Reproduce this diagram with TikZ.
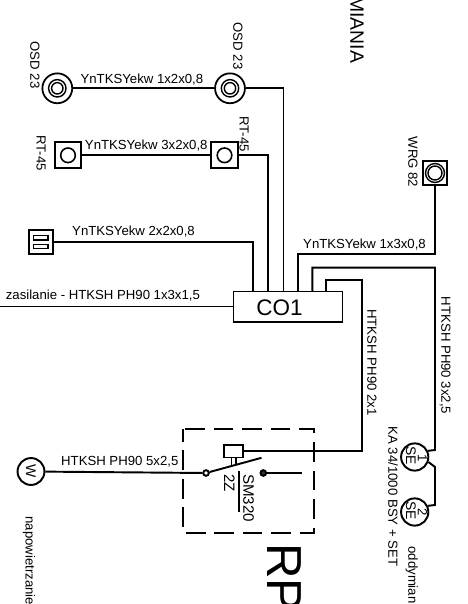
\documentclass[tikz,border=0pt]{standalone}
\usepackage{fontspec}
\setmainfont{Liberation Sans}
\usetikzlibrary{positioning,calc}

\begin{document}
\begin{tikzpicture}[
    x=0.02cm, y=-0.02cm,
    cable/.style={line width=1.1pt},
    detector/.style={draw, circle, inner sep=0pt, line width=1pt, minimum size=17pt},
    socket/.style={draw, line width=1.1pt, minimum size=14.9pt, inner sep=0pt},
    siren/.style={draw, circle, line width=1.1pt, minimum size=15.5pt, inner sep=0pt},
    contact/.style={draw, circle, line width=1.1pt, minimum size=3.2pt, inner sep=0pt},
    lbl/.style={font=\fontsize{7.5}{8}\selectfont, inner sep=0pt},
    vlbl/.style={lbl, rotate=-90},
    swlbl/.style={rotate=-90, inner sep=0pt, font=\fontsize{8.6}{9}\selectfont},
    bigtitle/.style={rotate=-90, inner sep=0pt, anchor=south west}
]
\useasboundingbox (0,0) rectangle (467,604);
\clip (0,0) rectangle (467,604);

% Detectors (top row)
\node[detector] (osdA) at (57.3,88.3) {};
\node[detector] (osdB) at (230,88.3) {};
\foreach \c in {osdA,osdB} {
    \draw[line width=0.8pt] (\c) circle (8.7);
    \draw[line width=0.8pt] (\c) circle (5.7);
}
\node[vlbl] (osdAlbl) at (35,65) {OSD 23};
\node[vlbl] (osdBlbl) at (238,46) {OSD 23};
\draw[cable] (osdA) -- (osdB) node[midway, lbl, above=1pt, xshift=-1pt] (osdlbl) {YnTKSYekw 1x2x0,8};

% Sockets
\node[socket] (rtA) at (68,155.3) {};
\node[socket] (rtB) at (224.5,155.3) {};
\draw[line width=0.9pt] (rtA) circle (7.3);
\draw[line width=0.9pt] (rtB) circle (7.3);
\node[vlbl] (rtAlbl) at (41,153) {RT-45};
\node[vlbl] (rtBlbl) at (244,134) {RT-45};
\draw[cable] (rtA) -- (rtB) node[midway, lbl, above=2pt] (rtlbl) {YnTKSYekw 3x2x0,8};

% Switch box
\node[draw, line width=1.1pt, minimum width=13.4pt, minimum height=13.8pt, inner sep=0pt] (sw) at (40.8,241.8) {};
\draw[line width=0.7pt] (33.7,235.7) rectangle (48,240);
\draw[line width=0.7pt] (33.7,244.3) rectangle (48,248.3);
\node[lbl] (swlabel) at (133.5,232) {YnTKSYekw 2x2x0,8};

% Controller
\node[draw, line width=0.8pt, minimum width=62pt, minimum height=17.2pt, inner sep=0pt] (co) at (288,306.8) {};
\node[font=\fontsize{12.8}{14}\selectfont, inner sep=0pt] (colbl) at (279.5,308) {CO1};
\coordinate (zas) at (0,306.3);
\draw[line width=0.9pt] (zas) -- (zas -| co.west) node[midway, lbl, above=2.5pt, xshift=-7.7pt] (zaslbl) {zasilanie - HTKSH PH90 1x3x1,5};
\coordinate (coA) at (253,291.7);
\coordinate (coB) at (268.3,291.7);
\coordinate (coC) at (283.5,291.7);
\coordinate (coD) at (298,291.7);
\coordinate (coE) at (312.3,291.7);
\coordinate (coF) at (326,291.7);

% Bus to controller
\draw[cable] (sw) -| (coA);
\draw[cable] (rtB) -| (coB);
\draw[cable] (osdB) -| (coC);

% WRG
\node[socket, minimum width=13.3pt, minimum height=13.8pt] (wrg) at (435,173) {};
\draw[line width=0.8pt] (wrg) circle (9.5);
\draw[line width=0.8pt] (wrg) circle (7);
\node[vlbl] (wrglbl) at (413,162) {WRG 82};
\coordinate (busD) at (298,254.3);
\draw[cable] (wrg) |- (busD) -- (coD);
\node[lbl] (busDlbl) at (364.5,245) {YnTKSYekw 1x3x0,8};

% Sirens
\node[siren] (seA) at (414.7,457) {};
\node[siren] (seB) at (414.7,512) {};
\node[swlbl, font=\fontsize{7.9}{9}\selectfont] (seAlbl) at (411,455.5) {SE};
\node[swlbl, font=\fontsize{7.9}{9}\selectfont] (seBlbl) at (411,510.5) {SE};
\node[vlbl] (seAnum) at (422.5,458) {1};
\node[vlbl] (seBnum) at (422.5,512.5) {2};
\coordinate (busE) at (435,267.7);
\coordinate (sirA) at (435,450);
\coordinate (sirB) at (435,467);
\coordinate (sirC) at (435,505);
\draw[cable] (coE) |- (busE) -- (sirA) -- (seA.25);
\draw[cable] (seA.-20) -- (sirB) -- (sirC) -- (seB.25);
\node[vlbl] (busElbl) at (445,355.5) {HTKSH PH90 3x2,5};
\node[vlbl] (kalbl) at (393,496.5) {KA 34/1000 BSY + SET};
\node[vlbl] (odlbl) at (411.7,575) {oddymian};

% Relay block
\draw[line width=1pt, dash pattern=on 11.2pt off 5pt, dash phase=4pt] (182.7,429) rectangle (314.3,532.7);
\node[draw, line width=0.9pt, minimum width=10.6pt, minimum height=7pt, inner sep=0pt] (rel) at (233.5,451.2) {};
\coordinate (busF) at (362.3,280);
\draw[cable] (coF) |- (busF) |- (rel);
\node[vlbl] (busFlbl) at (372,362.5) {HTKSH PH90 2x1};
\coordinate (relA) at (231.5,465.5);
\coordinate (relB) at (236,464);
\draw[line width=0.8pt] (rel.south -| relA) -- (relA);
\draw[line width=0.8pt] (rel.south -| relB) -- (relB);

\node[draw, circle, rotate=-90, line width=1.1pt, minimum size=15.3pt, inner sep=0pt, font=\fontsize{8}{9}\selectfont] (fan) at (31,471.5) {W};
\node[contact] (ca) at (206,473) {};
\node[contact, fill=black!80] (cb) at (263.3,473) {};
\coordinate (tip) at (261.5,457.8);
\coordinate (open) at (302.3,473);
\draw[cable] (fan) -- (ca) node[midway, lbl, above=2.5pt, xshift=-2.3pt] (fanlbl) {HTKSH PH90 5x2,5};
\draw[cable] (ca) -- (tip);
\draw[cable] (cb) -- (open);
\coordinate (barA) at (239,471);
\coordinate (barB) at (239,512);
\draw[cable] (barA) -- (barB);
\node[swlbl] (twozlbl) at (229.3,483) {2Z};
\node[swlbl] (smlbl) at (248.5,498) {SM320};

% Side labels
\node[vlbl, anchor=west] (naplbl) at (29,516) {napowietrzanie};
\node[bigtitle, font=\fontsize{11}{12}\selectfont] (miania) at (350,-4) {MIANIA};
\node[bigtitle, font=\fontsize{28}{30}\selectfont] (rplbl) at (267,543) {RP};
\end{tikzpicture}
\end{document}
